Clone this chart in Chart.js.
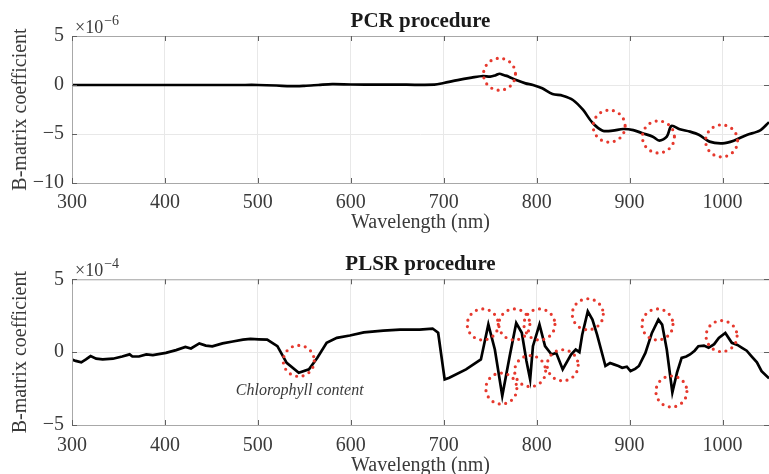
<!DOCTYPE html>
<html>
<head>
<meta charset="utf-8">
<script src="https://cdn.jsdelivr.net/npm/chart.js@4.4.1/dist/chart.umd.min.js"></script>
<style>
  html, body { margin: 0; padding: 0; background: #fff; overflow: hidden; width: 769px; height: 474px; }
  canvas { position: absolute; left: 0; }
  #c1 { top: 0; }
  #c2 { top: 237px; }
</style>
</head>
<body>
<canvas id="c1" width="769" height="237"></canvas>
<canvas id="c2" width="769" height="245"></canvas>
<script>
// ---- Data ----
const xTicks = [300, 400, 500, 600, 700, 800, 900, 1000];

// PCR procedure (values in units of 1e-6)
const pcrWavelength = [300,330,360,400,440,480,500,520,535,550,565,580,600,630,660,690,700,715,730,742,750,756,760,765,770,778,788,796,806,817,828,839,850,860,871,882,893,904,914,925,932,940,945,954,965,975,986,1000,1012,1026,1040,1050];
const pcrValues = [0,0,0,0,0,0,0,-0.05,-0.12,-0.08,0,0.08,0.05,0.04,0.03,0.03,0.2,0.5,0.75,0.92,0.85,1.0,1.15,1.0,0.85,0.5,0.17,0,-0.34,-0.92,-1.09,-1.53,-2.55,-3.85,-4.66,-4.66,-4.49,-4.6,-4.93,-5.27,-5.68,-5.27,-4.18,-4.52,-4.76,-5.1,-5.78,-5.95,-5.68,-5.1,-4.66,-3.8];
const pcrYTicks = [-10, -5, 0, 5];
const pcrCircleX = [760, 878, 931, 999];
const pcrCircleY = [1.1, -4.2, -5.3, -5.7];

// PLSR procedure (values in units of 1e-4)
const plsrWavelength = [300,304,310,315,320,326,333,344,354,362,365,372,380,387,401,412,422,428,437,444,451,462,473,484,492,501,510,521,531,544,555,564,574,585,599,614,635,653,674,688,694,701,706,724,740,748,755,763,771,778,784,789,793,796,803,809,816,821,828,837,842,846,849,855,860,865,874,879,883,888,892,897,901,906,910,917,924,931,935,940,946,951,956,961,965,970,974,980,985,991,996,1003,1010,1016,1021,1026,1031,1037,1042,1050];
const plsrValues = [-0.5,-0.6,-0.7,-0.5,-0.27,-0.45,-0.5,-0.45,-0.3,-0.15,-0.3,-0.3,-0.15,-0.2,-0.05,0.14,0.36,0.25,0.6,0.45,0.4,0.6,0.73,0.86,0.91,0.88,0.86,0.41,-0.73,-1.41,-1.18,-0.39,0.64,0.98,1.14,1.36,1.48,1.55,1.55,1.62,1.33,-1.87,-1.75,-1.18,-0.5,1.9,0.18,-3.0,-0.27,2.0,1.33,-0.6,-1.87,0.41,1.9,0.41,-0.16,-0.05,-1.18,-0.16,0.18,0.0,1.2,2.8,2.23,1.2,-0.95,-0.75,-0.84,-0.95,-1.07,-1.0,-1.3,-1.15,-0.95,-0.05,1.32,2.23,1.89,0.18,-2.77,-1.41,-0.39,-0.3,-0.16,0.1,0.41,0.45,0.3,0.55,0.98,1.32,0.64,0.5,0.3,0.1,-0.27,-0.7,-1.3,-1.8];
const plsrYTicks = [-5, 0, 5];
const plsrCircleX = [544, 742, 762, 776, 803, 793, 828, 855, 930, 945, 999];
const plsrCircleY = [-0.6, 1.9, -2.5, 1.9, 1.9, -1.3, -0.9, 2.6, 1.9, -2.7, 1.1];
const plsrNoteText = 'Chlorophyll content';
const plsrNoteX = 545;
const plsrNoteY = -2.62;

// ---- Styling ----
const FONT = "'Liberation Serif', 'Times New Roman', serif";
const TEXT = '#3a3a3a';

const decorPlugin = {
  id: 'decor',
  afterDraw(chart, args, opts) {
    const ctx = chart.ctx;
    const a = chart.chartArea;
    const xs = chart.scales.x, ys = chart.scales.y;
    ctx.save();
    // box
    ctx.strokeStyle = '#a8a8a8';
    ctx.lineWidth = 1;
    ctx.strokeRect(a.left + 0.5, a.top + 0.5, a.right - a.left, a.bottom - a.top);
    // inward ticks
    ctx.strokeStyle = '#606060';
    ctx.beginPath();
    xTicks.forEach(v => {
      const px = Math.round(xs.getPixelForValue(v)) + 0.5;
      ctx.moveTo(px, a.bottom); ctx.lineTo(px, a.bottom - 5);
      ctx.moveTo(px, a.top); ctx.lineTo(px, a.top + 5);
    });
    opts.yTicks.forEach(v => {
      const py = Math.round(ys.getPixelForValue(v)) + 0.5;
      ctx.moveTo(a.left, py); ctx.lineTo(a.left + 5, py);
      ctx.moveTo(a.right, py); ctx.lineTo(a.right - 5, py);
    });
    ctx.stroke();
    // dotted circles
    ctx.strokeStyle = '#e6392e';
    ctx.lineWidth = 3.2;
    ctx.lineCap = 'round';
    ctx.setLineDash([0, 6.6]);
    opts.circleX.forEach((cx, i) => {
      const px = xs.getPixelForValue(cx), py = ys.getPixelForValue(opts.circleY[i]);
      ctx.beginPath();
      ctx.arc(px, py, opts.radius, 0, Math.PI * 2);
      ctx.stroke();
    });
    ctx.setLineDash([]);
    // title centred over the plot area
    ctx.fillStyle = '#1a1a1a';
    ctx.font = 'bold 21px ' + FONT;
    ctx.textAlign = 'center';
    ctx.textBaseline = 'middle';
    ctx.fillText(opts.title, (a.left + a.right) / 2, opts.titleY);
    // exponent label
    ctx.fillStyle = TEXT;
    ctx.textBaseline = 'alphabetic';
    ctx.textAlign = 'left';
    ctx.font = '18px ' + FONT;
    ctx.fillText('×10', a.left + 3, a.top - 3);
    const w = ctx.measureText('×10').width;
    ctx.font = '14px ' + FONT;
    ctx.fillText(opts.exponent, a.left + 3 + w + 1, a.top - 11);
    // note
    if (opts.note) {
      ctx.font = 'italic 16px ' + FONT;
      ctx.textAlign = 'center';
      ctx.textBaseline = 'middle';
      ctx.fillText(opts.note.text, xs.getPixelForValue(opts.note.x), ys.getPixelForValue(opts.note.y));
    }
    ctx.restore();
  }
};

function makeChart(id, cfg) {
  const points = cfg.xs.map((x, i) => ({ x: x, y: cfg.ys[i] }));
  return new Chart(document.getElementById(id), {
    type: 'line',
    data: { datasets: [{ data: points, borderColor: '#000', borderWidth: 2.7, pointRadius: 0, tension: cfg.tension, fill: false }] },
    options: {
      responsive: false,
      animation: false,
      devicePixelRatio: 1,
      layout: { padding: { top: cfg.topPad, left: 0, right: 0, bottom: 0 } },
      plugins: {
        legend: { display: false },
        tooltip: { enabled: false },
        title: { display: false },
        decor: { yTicks: cfg.yTicks, circleX: cfg.circleX, circleY: cfg.circleY, radius: cfg.radius, exponent: cfg.exponent, note: cfg.note, title: cfg.title, titleY: cfg.titleY }
      },
      scales: {
        x: {
          type: 'linear', min: 300, max: 1050,
          afterBuildTicks: s => { s.ticks = xTicks.map(v => ({ value: v })); },
          afterFit: s => { s.height = cfg.xHeight; },
          ticks: { color: TEXT, font: { family: FONT, size: 20 }, padding: cfg.xTickPad, maxRotation: 0, autoSkip: false, callback: v => String(v) },
          grid: { color: '#e8e8e8', drawTicks: false },
          border: { display: false },
          title: { display: true, text: 'Wavelength (nm)', color: TEXT, font: { family: FONT, size: 20 }, padding: { top: 0, bottom: cfg.xTitlePad } }
        },
        y: {
          type: 'linear', min: cfg.yTicks[0], max: cfg.yTicks[cfg.yTicks.length - 1],
          afterBuildTicks: s => { s.ticks = cfg.yTicks.map(v => ({ value: v })); },
          afterFit: s => { s.width = 72; },
          ticks: { color: TEXT, font: { family: FONT, size: 20 }, padding: 8, callback: v => v < 0 ? '\u2212' + Math.abs(v) : String(v) },
          grid: { color: '#e8e8e8', drawTicks: false },
          border: { display: false },
          title: { display: true, text: 'B-matrix coefficient', color: TEXT, font: { family: FONT, size: 20 }, padding: { top: 9, bottom: 0 } }
        }
      }
    },
    plugins: [decorPlugin]
  });
}

makeChart('c1', {
  xs: pcrWavelength, ys: pcrValues, yTicks: pcrYTicks, title: 'PCR procedure',
  topPad: 36, titleY: 22, xHeight: 54, xTickPad: 7.5, xTitlePad: 2.5, tension: 0.3,
  circleX: pcrCircleX, circleY: pcrCircleY, radius: 16, exponent: '\u22126', note: null
});

makeChart('c2', {
  xs: plsrWavelength, ys: plsrValues, yTicks: plsrYTicks, title: 'PLSR procedure',
  topPad: 42.3, titleY: 28, xHeight: 57, xTickPad: 8.5, xTitlePad: 4, tension: 0,
  circleX: plsrCircleX, circleY: plsrCircleY, radius: 15.5, exponent: '\u22124',
  note: { text: plsrNoteText, x: plsrNoteX, y: plsrNoteY }
});
</script>
</body>
</html>
